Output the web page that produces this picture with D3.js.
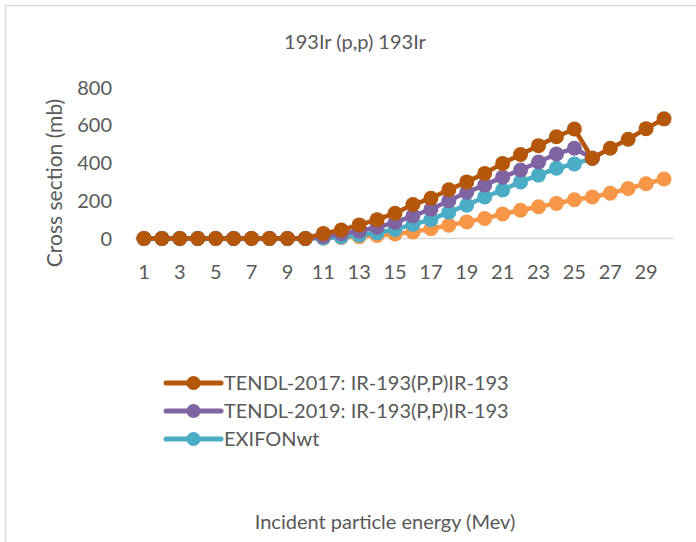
<!DOCTYPE html>
<html>
<head>
<meta charset="utf-8">
<script src="https://cdn.jsdelivr.net/npm/d3@7"></script>
<style>
  html, body { margin: 0; padding: 0; background: #fff; }
  svg text { font-family: Lato, "Open Sans", sans-serif; fill: #595959; }
</style>
</head>
<body>
<svg id="chart" width="696" height="542"></svg>
<script>
// Incident proton energy (MeV), one category per step
const energies = d3.range(1, 31);

// Cross sections (mb) for 193Ir(p,p)193Ir
const tendl2017 = [0,0,0,0,0,0,0,0,0,0, 27,45,72,100,134,180,213,258,300,345, 398,445,492,539,580,425,478,526,582,634];
const tendl2019 = [0,0,0,0,0,0,0,0,0,0, 10,25,40,60,85,120,155,200,245,283, 325,363,405,448,478,425,null,null,null,null];
const exifon    = [0,0,0,0,0,0,0,0,0,0, 3,8,18,30,48,75,100,140,177,220, 257,300,336,372,395,425,null,null,null,null];
const extraSeries = [0,0,0,0,0,0,0,0,0,0, 2,5,10,16,24,35,52,70,88,106, 130,150,168,186,205,220,240,265,290,315];

const yTicks = [0, 200, 400, 600, 800];
const xTickLabels = energies.filter(e => e % 2 === 1);

const series = [
  { name: "", values: extraSeries, color: "#F79646", legend: false },
  { name: "EXIFONwt", values: exifon, color: "#4BACC6", legend: true },
  { name: "TENDL-2019: IR-193(P,P)IR-193", values: tendl2019, color: "#8064A2", legend: true },
  { name: "TENDL-2017: IR-193(P,P)IR-193", values: tendl2017, color: "#B5570B", legend: true }
];

const svg = d3.select("#chart");

// outer chart frame
svg.append("rect")
  .attr("x", 5.5).attr("y", 5.5)
  .attr("width", 720).attr("height", 560)
  .attr("fill", "none").attr("stroke", "#D9D9D9").attr("stroke-width", 1.5);

const x = d3.scaleBand().domain(energies).range([135, 673]);
const y = d3.scaleLinear().domain([0, 800]).range([238.5, 87.5]);
const cx = d => x(d) + x.bandwidth() / 2;

// title
svg.append("text")
  .attr("x", 355).attr("y", 49)
  .attr("text-anchor", "middle")
  .attr("font-size", 20)
  .text("193Ir (p,p) 193Ir");

// x axis line
svg.append("line")
  .attr("x1", 135).attr("x2", 673)
  .attr("y1", y(0)).attr("y2", y(0))
  .attr("stroke", "#D9D9D9").attr("stroke-width", 1.5);

// y tick labels
svg.append("g").selectAll("text")
  .data(yTicks).join("text")
  .attr("x", 112).attr("y", d => y(d) + 7)
  .attr("text-anchor", "end")
  .attr("font-size", 20)
  .text(d => d);

// x tick labels
svg.append("g").selectAll("text")
  .data(xTickLabels).join("text")
  .attr("x", d => cx(d)).attr("y", 279)
  .attr("text-anchor", "middle")
  .attr("font-size", 20)
  .text(d => d);

// y axis title
svg.append("text")
  .attr("transform", "translate(62,183) rotate(-90)")
  .attr("text-anchor", "middle")
  .attr("font-size", 21)
  .text("Cross section (mb)");

// x axis title
svg.append("text")
  .attr("x", 385).attr("y", 529)
  .attr("text-anchor", "middle")
  .attr("font-size", 20)
  .text("Incident particle energy (Mev)");

// series lines and markers
const line = d3.line()
  .defined(d => d.v !== null)
  .x(d => cx(d.e))
  .y(d => y(d.v));

const plot = svg.append("g");
series.forEach(s => {
  const pts = energies.map((e, i) => ({ e, v: s.values[i] }));
  const g = plot.append("g");
  g.append("path")
    .datum(pts)
    .attr("d", line)
    .attr("fill", "none")
    .attr("stroke", s.color)
    .attr("stroke-width", 4.5)
    .attr("stroke-linejoin", "round");
  g.selectAll("circle")
    .data(pts.filter(p => p.v !== null))
    .join("circle")
    .attr("cx", p => cx(p.e))
    .attr("cy", p => y(p.v))
    .attr("r", 7.5)
    .attr("fill", s.color);
});

// legend
const legendItems = series.filter(s => s.legend).reverse();
const lg = svg.append("g");
legendItems.forEach((s, i) => {
  const ly = 383 + i * 28;
  lg.append("line")
    .attr("x1", 166).attr("x2", 221)
    .attr("y1", ly).attr("y2", ly)
    .attr("stroke", s.color).attr("stroke-width", 5)
    .attr("stroke-linecap", "round");
  lg.append("circle")
    .attr("cx", 193.5).attr("cy", ly).attr("r", 7)
    .attr("fill", s.color);
  lg.append("text")
    .attr("x", 224).attr("y", ly + 7)
    .attr("font-size", 20)
    .text(s.name);
});
</script>
</body>
</html>
